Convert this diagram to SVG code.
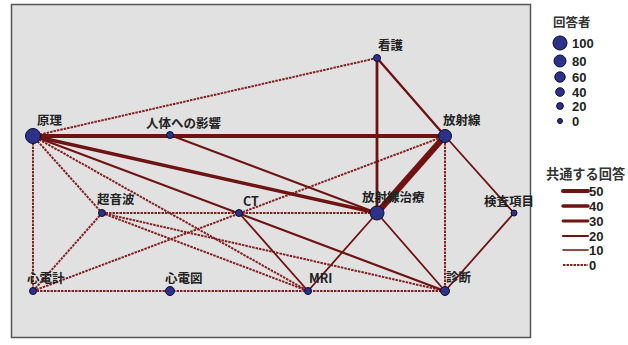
<svg xmlns="http://www.w3.org/2000/svg" width="628" height="345" viewBox="0 0 628 345">
<style>
.lbl{font-family:"Noto Sans CJK JP","Liberation Sans",sans-serif;font-size:12.5px;font-weight:bold;fill:#222}
.leg{font-family:"Liberation Sans","Noto Sans CJK JP",sans-serif;font-size:13px;font-weight:bold;fill:#222}
.legh{font-family:"Noto Sans CJK JP","Liberation Sans",sans-serif;font-size:12.5px;font-weight:bold;fill:#333}
.nd{fill:#2c3189;stroke:#0b0b30;stroke-width:1}
.e{stroke:#6e1212;fill:none;stroke-linecap:round}
.d{stroke:#842222;fill:none;stroke-width:2;stroke-dasharray:2.5 1}
</style>
<rect width="628" height="345" fill="#fff"/>
<rect x="11.5" y="4.5" width="519" height="333" fill="#e1e1e1" stroke="#555" stroke-width="1.5"/>
<g id="connectors">
<line class="d" x1="33" y1="136" x2="377" y2="58"/>
<line class="d" x1="33" y1="136" x2="33" y2="291"/>
<line class="d" x1="33" y1="136" x2="102" y2="213"/>
<line class="d" x1="33" y1="136" x2="308" y2="291"/>
<line class="d" x1="33" y1="291" x2="445" y2="136"/>
<line class="d" x1="102" y1="213" x2="377" y2="213"/>
<line class="d" x1="102" y1="213" x2="33" y2="291"/>
<line class="d" x1="102" y1="213" x2="308" y2="291"/>
<line class="d" x1="102" y1="213" x2="445" y2="291"/>
<line class="d" x1="445" y1="136" x2="445" y2="291"/>
<line class="d" x1="33" y1="291" x2="445" y2="291"/>
<line class="e" stroke-width="1.8" x1="239" y1="213" x2="308" y2="291"/>
<line class="e" stroke-width="1.8" x1="377" y1="213" x2="308" y2="291"/>
<line class="e" stroke-width="1.8" x1="377" y1="213" x2="445" y2="291"/>
<line class="e" stroke-width="1.8" x1="445" y1="136" x2="514" y2="213"/>
<line class="e" stroke-width="1.8" x1="514" y1="213" x2="445" y2="291"/>
<line class="e" stroke-width="2" x1="170" y1="135" x2="377" y2="213"/>
<line class="e" stroke-width="2.2" x1="33" y1="136" x2="445" y2="291"/>
<line class="e" stroke-width="2.4" x1="377" y1="58" x2="445" y2="136"/>
<line class="e" stroke-width="2.8" x1="377" y1="58" x2="377" y2="213"/>
<line class="e" stroke-width="3.4" x1="33" y1="136" x2="377" y2="213"/>
<line class="e" stroke-width="3.8" x1="33" y1="136" x2="445" y2="136"/>
<line class="e" stroke-width="6.2" x1="445" y1="136" x2="377" y2="213"/>
</g>
<g id="n-genri"><circle class="nd" cx="33" cy="136" r="7.5"/><text class="lbl" x="37" y="125">原理</text></g>
<g id="n-jintai"><circle class="nd" cx="170" cy="135" r="3.5"/><text class="lbl" x="146" y="128">人体への影響</text></g>
<g id="n-kango"><circle class="nd" cx="377" cy="58" r="3.5"/><text class="lbl" x="378" y="50">看護</text></g>
<g id="n-hoshasen"><circle class="nd" cx="445" cy="136" r="6.5"/><text class="lbl" x="443" y="125">放射線</text></g>
<g id="n-choonpa"><circle class="nd" cx="102" cy="213" r="3.5"/><text class="lbl" x="97" y="204">超音波</text></g>
<g id="n-ct"><circle class="nd" cx="239" cy="213" r="3.5"/><text class="lbl" x="243" y="206">CT</text></g>
<g id="n-chiryo"><circle class="nd" cx="377" cy="213" r="7"/><text class="lbl" x="362" y="202">放射線治療</text></g>
<g id="n-kensa"><circle class="nd" cx="514" cy="213" r="3"/><text class="lbl" x="484" y="206">検査項目</text></g>
<g id="n-shindenkei"><circle class="nd" cx="33" cy="291" r="3.5"/><text class="lbl" x="27" y="283">心電計</text></g>
<g id="n-shindenzu"><circle class="nd" cx="170" cy="291" r="4.5"/><text class="lbl" x="165" y="283">心電図</text></g>
<g id="n-mri"><circle class="nd" cx="308" cy="291" r="3.5"/><text class="lbl" x="309" y="283">MRI</text></g>
<g id="n-shindan"><circle class="nd" cx="445" cy="291" r="4.5"/><text class="lbl" x="446" y="282">診断</text></g>
<g id="legend-size">
<text class="legh" x="553" y="27">回答者</text>
<circle class="nd" cx="560" cy="43" r="7"/><text class="leg" x="572" y="48">100</text>
<circle class="nd" cx="560" cy="61" r="6"/><text class="leg" x="572" y="66">80</text>
<circle class="nd" cx="560" cy="77" r="5.2"/><text class="leg" x="572" y="82">60</text>
<circle class="nd" cx="560" cy="92" r="4.3"/><text class="leg" x="572" y="97">40</text>
<circle class="nd" cx="560" cy="106" r="3.4"/><text class="leg" x="572" y="111">20</text>
<circle class="nd" cx="560" cy="121" r="2.5"/><text class="leg" x="572" y="126">0</text>
</g>
<g id="legend-width">
<text class="legh" x="546" y="179" style="font-size:13.2px">共通する回答</text>
<line class="e" stroke-width="4" x1="563" y1="191" x2="588" y2="191"/><text class="leg" x="589" y="196">50</text>
<line class="e" stroke-width="3.4" x1="563" y1="206" x2="588" y2="206"/><text class="leg" x="589" y="211">40</text>
<line class="e" stroke-width="2.8" x1="563" y1="221" x2="588" y2="221"/><text class="leg" x="589" y="226">30</text>
<line class="e" stroke-width="2.2" x1="563" y1="236" x2="588" y2="236"/><text class="leg" x="589" y="241">20</text>
<line class="e" stroke-width="1.6" x1="563" y1="250" x2="588" y2="250"/><text class="leg" x="589" y="255">10</text>
<line class="d" x1="563" y1="265" x2="588" y2="265"/><text class="leg" x="589" y="270">0</text>
</g>
</svg>
